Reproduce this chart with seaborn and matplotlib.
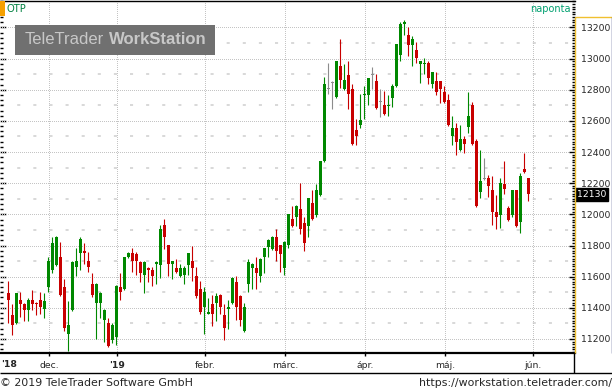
import matplotlib
matplotlib.use("Agg")
import matplotlib.pyplot as plt
from matplotlib.lines import Line2D
from matplotlib.patches import Rectangle
from matplotlib.ticker import MultipleLocator, FixedLocator
import seaborn as sns
import numpy as np
import pandas as pd

# --- data (OTP daily candles) ---
holidays = ["2018-12-24", "2018-12-25", "2018-12-26", "2018-12-31", "2019-01-01",
            "2019-03-15", "2019-04-19", "2019-04-22", "2019-05-01"]
month_labels = {12: "dec.", 1: "'19", 2: "febr.", 3: "márc.", 4: "ápr.", 5: "máj.", 6: "jún."}
last_price = 12130

opens = [11495, 11354, 11302, 11450, 11424, 11386, 11450, 11433, 11450, 11392,
         11533, 11644, 11674, 11726, 11533, 11234, 11388, 11664, 11753, 11764,
         11700, 11553, 11433, 11433, 11324, 11302, 11196, 11215, 11533, 11520,
         11728, 11751, 11745, 11694, 11610, 11655, 11642, 11681, 11676, 11931,
         11802, 11681, 11655, 11604, 11610, 11674, 11700, 11604, 11520, 11405,
         11362, 11424, 11433, 11482, 11354, 11392, 11431, 11565, 11476, 11251,
         11553, 11655, 11655, 11604, 11726, 11790, 11777, 11854, 11802, 11655,
         11802, 11969, 11984, 12033, 11944, 11926, 12072, 11995, 12123, 12341,
         12803, 12843, 12751, 12950, 12803, 12892, 12803, 12540, 12572, 12764,
         12764, 12892, 12854, 12719, 12700, 12694, 12745, 12822, 13020, 13219,
         13149, 13087, 13053, 12963, 12963, 12969, 12835, 12854, 12854, 12783,
         12732, 12501, 12553, 12411, 12482, 12559, 12700, 12469, 12142, 12227,
         12232, 12155, 12014, 11997, 12193, 12039, 11997, 12155, 11950, 12289,
         12232]
highs = [11572, 11424, 11497, 11501, 11430, 11461, 11514, 11437, 11501, 11495,
         11726, 11852, 11860, 11822, 11585, 11444, 11700, 11783, 11854, 11815,
         11758, 11623, 11560, 11500, 11390, 11335, 11302, 11545, 11623, 11728,
         11756, 11783, 11758, 11698, 11698, 11661, 11661, 11700, 11931, 11969,
         11806, 11702, 11713, 11681, 11670, 11755, 11800, 11664, 11572, 11533,
         11463, 11482, 11495, 11486, 11424, 11450, 11595, 11604, 11480, 11431,
         11713, 11685, 11726, 11717, 11787, 11839, 11858, 11905, 11806, 11826,
         12005, 12053, 12057, 12200, 11982, 12108, 12155, 12194, 12345, 12880,
         12969, 12854, 12986, 13123, 12963, 12982, 12835, 12610, 12771, 12822,
         12877, 12944, 12899, 12803, 12790, 12764, 12835, 13095, 13232, 13251,
         13200, 13142, 13104, 12986, 13001, 12982, 12916, 12912, 12858, 12822,
         12771, 12629, 12585, 12572, 12501, 12783, 12719, 12482, 12411, 12360,
         12251, 12245, 12123, 12232, 12341, 12052, 12159, 12159, 12264, 12392,
         12236]
lows = [11305, 11226, 11295, 11343, 11317, 11317, 11386, 11356, 11362, 11337,
        11503, 11625, 11668, 11476, 11253, 11125, 11382, 11604, 11642, 11681,
        11629, 11471, 11202, 11337, 11183, 11150, 11176, 11164, 11452, 11515,
        11722, 11629, 11612, 11567, 11495, 11567, 11540, 11555, 11593, 11775,
        11604, 11587, 11625, 11600, 11555, 11612, 11574, 11461, 11360, 11232,
        11358, 11283, 11315, 11360, 11193, 11264, 11427, 11322, 11283, 11247,
        11501, 11520, 11520, 11565, 11623, 11726, 11770, 11700, 11629, 11610,
        11785, 11920, 11926, 11873, 11766, 11856, 11965, 11984, 12118, 12335,
        12771, 12674, 12747, 12809, 12799, 12674, 12445, 12444, 12553, 12610,
        12700, 12803, 12675, 12625, 12640, 12632, 12689, 12815, 12982, 13149,
        13014, 12952, 12971, 12843, 12899, 12835, 12809, 12764, 12715, 12713,
        12570, 12444, 12379, 12405, 12392, 12520, 12445, 12045, 12104, 12219,
        12110, 11930, 11905, 11911, 12129, 11958, 11982, 11918, 11879, 12265,
        12084]
closes = [11452, 11290, 11495, 11424, 11386, 11450, 11424, 11424, 11405, 11444,
          11700, 11815, 11854, 11482, 11273, 11290, 11694, 11700, 11841, 11753,
          11664, 11482, 11553, 11495, 11386, 11157, 11290, 11540, 11503, 11726,
          11753, 11702, 11700, 11625, 11694, 11644, 11606, 11696, 11905, 11854,
          11683, 11700, 11629, 11655, 11655, 11751, 11655, 11476, 11373, 11501,
          11373, 11360, 11476, 11405, 11270, 11405, 11591, 11405, 11322, 11405,
          11694, 11681, 11623, 11713, 11783, 11835, 11854, 11764, 11745, 11822,
          12001, 11926, 12053, 11905, 11817, 12104, 11969, 12155, 12341, 12835,
          12803, 12843, 12982, 12860, 12860, 12771, 12450, 12501, 12604, 12771,
          12873, 12892, 12681, 12719, 12644, 12700, 12822, 13091, 13219, 13232,
          13087, 13123, 13003, 12982, 12969, 12875, 12912, 12785, 12803, 12719,
          12574, 12553, 12463, 12482, 12450, 12629, 12450, 12052, 12213, 12227,
          12180, 12014, 11982, 12200, 12161, 11963, 12155, 11924, 12245, 12270,
          12130]

# trading calendar (Budapest), extended to the first June session for the last gridline
days = pd.bdate_range("2018-11-16", "2019-06-03")
days = days[~days.isin(pd.to_datetime(holidays))]
df = pd.DataFrame({"date": days[:len(closes)], "open": opens, "high": highs,
                   "low": lows, "close": closes})
df["idx"] = np.arange(len(df))

sns.set_theme(style="white")
plt.rcParams["font.family"] = ["DejaVu Sans"]
plt.rcParams["lines.scale_dashes"] = False

W, H = 612, 392
fig = plt.figure(figsize=(W / 100, H / 100), dpi=100)
fig.patch.set_facecolor("white")
ax = fig.add_axes([0, 39 / H, 575 / W, (H - 39 - 0.5) / H])
ax.set_facecolor("white")

GREEN, RED, GREY = "#008800", "#c80000", "#8c8c8c"
colors = np.where(df["close"] > df["open"], GREEN,
                  np.where(df["close"] < df["open"], RED, GREY))

# wicks + bodies
ax.vlines(df["idx"], df["low"], df["high"], colors=colors, lw=0.8, zorder=3)
body_lo = np.minimum(df["open"], df["close"])
body_h = np.maximum(np.abs(df["close"] - df["open"]), 7)
ax.bar(df["idx"], body_h, bottom=body_lo, width=0.8, color=colors, lw=0,
       zorder=4, antialiased=False)

ax.set_xlim(-2.08, 141.7)
ax.set_ylim(11110, 13373)

# month gridlines / labels
first = df["date"].dt.month.ne(df["date"].dt.month.shift())
month_pos = [i - 0.75 for i in df.index[first][1:]]
month_txt = [month_labels[m] for m in df["date"][first][1:].dt.month]
month_pos.append(len(df) + 1 - 0.75)   # first June session
month_txt.append(month_labels[6])
ax.xaxis.set_major_locator(FixedLocator(month_pos))
ax.set_xticklabels(month_txt)
for t in ax.get_xticklabels():
    if t.get_text().startswith("'"):
        t.set_fontweight("bold")
ax.tick_params(axis="x", direction="out", length=2, width=1, color="black",
               labelsize=6.7, pad=4, bottom=True)
ax.text(-1.9, -0.034, "'18", transform=ax.get_xaxis_transform(), fontsize=6.7,
        fontweight="bold", ha="left", va="center")

# y axis on the right
ax.yaxis.tick_right()
ax.yaxis.set_major_locator(MultipleLocator(200))
ax.yaxis.set_minor_locator(MultipleLocator(200 / 12))
ax.tick_params(axis="y", which="major", direction="in", length=4, width=1,
               color="black", labelsize=6.7, pad=4.2, right=True)
ax.tick_params(axis="y", which="minor", direction="in", length=2, width=1,
               color="black", right=True)
left = ax.secondary_yaxis("left")
left.yaxis.set_major_locator(MultipleLocator(200))
left.yaxis.set_minor_locator(MultipleLocator(200 / 6))
left.tick_params(which="major", direction="in", length=4, width=1, color="black", labelleft=False)
left.tick_params(which="minor", direction="in", length=2.5, width=1, color="black")
left.spines["left"].set_visible(False)

ax.grid(which="major", axis="both", ls=(0, (0.72, 1.44)), color="#c4c4c4", lw=0.72,
        antialiased=False)
for v in np.arange(11300, 13300, 200):
    ax.axhline(v, ls=(10.8, (2.2, 9.4)), color="#d8d8d8", lw=1.4, zorder=0)
ax.set_axisbelow(True)

for s in ["left", "right"]:
    ax.spines[s].set_visible(False)
ax.spines["top"].set_color("black")
ax.spines["top"].set_linewidth(1)
ax.spines["bottom"].set_color("black")
ax.spines["bottom"].set_linewidth(1.6)

# last price tag
ax.text(1.003, last_price, str(last_price), transform=ax.get_yaxis_transform(),
        fontsize=6.7, color="white", ha="left", va="center", zorder=10,
        bbox=dict(boxstyle="square,pad=0.22", fc="black", ec="black"), clip_on=False)

# frame pieces drawn in figure pixels
def fx(x):
    return x / W

def fy(y):
    return 1 - y / H

def fline(xs, ys, color, lw):
    fig.add_artist(Line2D([fx(x) for x in xs], [fy(y) for y in ys], color=color, lw=lw,
                          transform=fig.transFigure, solid_capstyle="butt"))

fline([575, 612], [17, 17], "#f0c030", 1)
fline([575, 575], [17, 353], "#f0c030", 1)
fline([611.5, 611.5], [17, 353], "#1f2d6b", 1)
fline([0, 612], [372.5, 372.5], "black", 1)
fline([573.5, 573.5], [353, 372.5], "black", 1)

# header and watermark
fig.add_artist(Rectangle((0, fy(16)), fx(5), 15 / H, transform=fig.transFigure,
                         fc="#f5a000", ec="none"))
fig.text(fx(7), fy(9), "OTP", fontsize=7.2, color="#008040", va="center")
fig.text(fx(571), fy(9), "naponta", fontsize=7, color="#00a070", va="center", ha="right")
fig.add_artist(Rectangle((fx(15), fy(55)), 200 / W, 30 / H, transform=fig.transFigure,
                         fc="#707070", ec="none", zorder=5))
fig.text(fx(25), fy(40), "TeleTrader", fontsize=12, color="#c8c8c8", va="center",
         family="Liberation Sans", zorder=6)
fig.text(fx(207), fy(40), "WorkStation", fontsize=12, color="#c8c8c8", va="center",
         ha="right", family="Liberation Sans", fontweight="bold", zorder=6)

# footer
fig.text(0, fy(383), "© 2019 TeleTrader Software GmbH", fontsize=7.9, va="center")
fig.text(1, fy(383), "https://workstation.teletrader.com/", fontsize=7.9, va="center", ha="right")

fig.savefig("out.png", dpi=100)
